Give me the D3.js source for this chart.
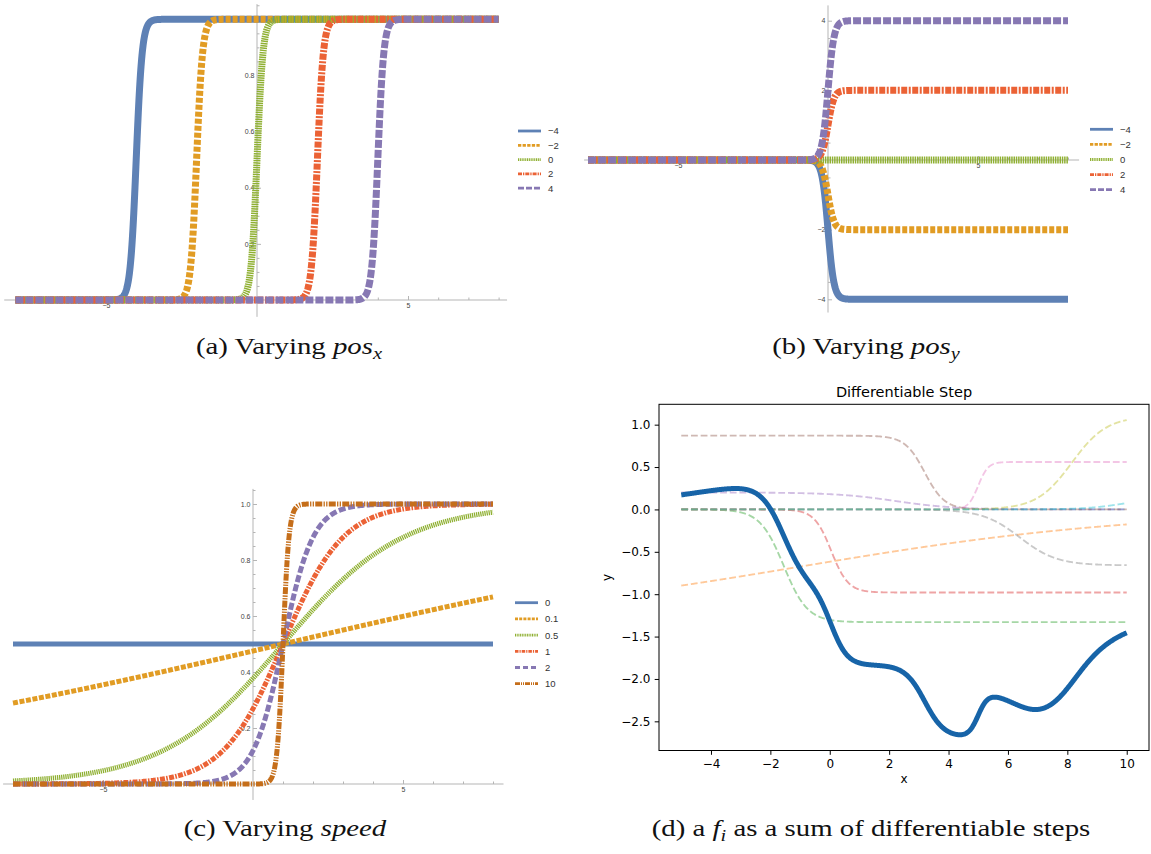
<!DOCTYPE html>
<html>
<head>
<meta charset="utf-8">
<script src="https://cdn.jsdelivr.net/npm/d3@7"></script>
<style>
  html, body { margin: 0; padding: 0; background: #fff; }
  svg { display: block; }
</style>
</head>
<body>
<svg id="fig" width="1151" height="854"></svg>
<script>
// ---- step parameters shown in panels (a)-(c) ----
const posXValues = [-4, -2, 0, 2, 4];
const posYValues = [-4, -2, 0, 2, 4];
const speedValues = [0, 0.1, 0.5, 1, 2, 10];
const baseSpeed = 10;
const basePosX = 0;
const basePosY = 1;
const speedPanelPosX = 1;
const curveDomain = [-8, 8];

// ---- tick labels of the three step panels ----
const stepTicksX = [-5, 5];
const unitTicksY = [0.2, 0.4, 0.6, 0.8, 1.0];
const posYTicksY = [-4, -2, 2, 4];

// ---- panel (d): individual steps (height, centre, speed); the thick curve is their sum ----
const stepHeights = [0.0, -1.35, -1.33, -0.98, 0.20, 0.87, 0.56, -0.66, 1.10, 0.15];
const stepCentres = [2.0, -1.0, -1.55, 0.05, 2.2, 3.2, 5.0, 6.4, 8.15, 10.0];
const stepSpeeds  = [1.0, -0.172, 2.5, 3.5, -1.0, -3.0, 6.0, 1.6, 1.7, 1.5];
const sumDomain = [-5, 10];
const sumTicksX = [-4, -2, 0, 2, 4, 6, 8, 10];
const sumTicksY = [1.0, 0.5, 0.0, -0.5, -1.0, -1.5, -2.0, -2.5];

const sigmoid = t => 1 / (1 + Math.exp(-t));
const step = (x, height, centre, speed) => height * sigmoid(speed * (x - centre));

const svg = d3.select("#fig");
const minus = v => (v < 0 ? "\u2212" : "") + Math.abs(v);

// Mathematica-like default styling
const mmaColors = ["#5E81B5", "#E19C24", "#8FB032", "#EB6235", "#8778B3", "#C56E1A"];
const axisGray = "#b5b5b5";
const tickText = "#444";

function stepPanel(cfg) {
  const g = svg.append("g");
  const x = d3.scaleLinear().domain(curveDomain).range(cfg.xRange);
  const y = d3.scaleLinear().domain(cfg.yDomain).range(cfg.yRange);

  // axis lines through the origin
  g.append("line")
    .attr("x1", x(cfg.axisX[0])).attr("x2", x(cfg.axisX[1]))
    .attr("y1", y(0)).attr("y2", y(0))
    .attr("stroke", axisGray).attr("stroke-width", 1);
  g.append("line")
    .attr("x1", x(0)).attr("x2", x(0))
    .attr("y1", y(cfg.axisY[0])).attr("y2", y(cfg.axisY[1]))
    .attr("stroke", axisGray).attr("stroke-width", 1);

  const styleAxis = sel => {
    sel.select(".domain").remove();
    sel.selectAll(".tick line").attr("stroke", axisGray);
    sel.selectAll(".tick text").attr("fill", tickText)
      .attr("font-family", "Arial, 'Liberation Sans', sans-serif").attr("font-size", 7);
  };

  const minorX = d3.range(-8, 9, 1).filter(v => v !== 0 && !stepTicksX.includes(v));
  g.append("g").attr("transform", `translate(0,${y(0)})`)
    .call(d3.axisBottom(x).tickValues(minorX).tickSize(-2.5).tickFormat(""))
    .call(styleAxis);
  g.append("g").attr("transform", `translate(0,${y(0)})`)
    .call(d3.axisBottom(x).tickValues(stepTicksX).tickSize(-4).tickPadding(3).tickFormat(minus))
    .call(styleAxis);

  g.append("g").attr("transform", `translate(${x(0)},0)`)
    .call(d3.axisLeft(y).tickValues(cfg.minorY).tickSize(-2.5).tickFormat(""))
    .call(styleAxis);
  g.append("g").attr("transform", `translate(${x(0)},0)`)
    .call(d3.axisLeft(y).tickValues(cfg.ticksY).tickSize(-4).tickPadding(2.5).tickFormat(cfg.tickFormat))
    .call(styleAxis);

  // curves, one per parameter value
  const n = 1600;
  const xs = d3.range(n + 1).map(i => curveDomain[0] + i * (curveDomain[1] - curveDomain[0]) / n);
  const line = d3.line().x(d => x(d[0])).y(d => y(d[1]));
  cfg.values.forEach((v, i) => {
    g.append("path")
      .attr("d", line(xs.map(t => [t, cfg.fn(t, v)])))
      .attr("fill", "none")
      .attr("stroke", mmaColors[i])
      .attr("stroke-width", cfg.lw)
      .attr("stroke-linejoin", "round")
      .attr("stroke-dasharray", cfg.dash[i]);
  });

  // legend
  cfg.values.forEach((v, i) => {
    const ly = cfg.legendY0 + i * cfg.legendDy;
    g.append("line")
      .attr("x1", cfg.legendX).attr("x2", cfg.legendX + 23)
      .attr("y1", ly).attr("y2", ly)
      .attr("stroke", mmaColors[i]).attr("stroke-width", 2.8)
      .attr("stroke-dasharray", cfg.legendDash[i]);
    g.append("text")
      .attr("x", cfg.legendX + 30).attr("y", ly).attr("dy", "0.36em")
      .attr("font-family", "Arial, 'Liberation Sans', sans-serif")
      .attr("font-size", 9.5).attr("fill", "#333")
      .text(minus(v));
  });
}

const unitMinorY = d3.range(0.05, 1.051, 0.05).map(v => +v.toFixed(2))
  .filter(v => !unitTicksY.some(t => Math.abs(t - v) < 1e-6));
const posMinorY = d3.range(-4, 4.01, 0.5).filter(v => v !== 0 && !posYTicksY.includes(v));

// (a) varying pos_x
stepPanel({
  values: posXValues,
  fn: (t, v) => step(t, basePosY, v, baseSpeed),
  xRange: [257 - 8 * 30.2, 257 + 8 * 30.2],
  yDomain: [0, 1], yRange: [300, 19.3],
  axisX: [-8.37, 8.28], axisY: [-0.06, 1.054],
  ticksY: unitTicksY, minorY: unitMinorY, tickFormat: d3.format(".1f"),
  lw: 7,
  dash: [null, "5,2", "1.5,0.8", "6,1.5,2,1.5", "8,2"],
  legendDash: [null, "3.3,1.3", "1.1,0.7", "4,1,1.3,1", "6,2"],
  legendX: 518, legendY0: 131, legendDy: 14.3
});

// (b) varying pos_y
stepPanel({
  values: posYValues,
  fn: (t, v) => step(t, v, basePosX, baseSpeed),
  xRange: [828 - 8 * 30, 828 + 8 * 30],
  yDomain: [-4, 4], yRange: [299.3, 20.7],
  axisX: [-8.13, 8.37], axisY: [-4.38, 4.44],
  ticksY: posYTicksY, minorY: posMinorY, tickFormat: minus,
  lw: 7,
  dash: [null, "5,2", "1.5,0.8", "6,1.5,2,1.5", "8,2"],
  legendDash: [null, "3.3,1.3", "1.1,0.7", "4,1,1.3,1", "6,2"],
  legendX: 1090, legendY0: 129.3, legendDy: 15.1
});

// (c) varying speed
stepPanel({
  values: speedValues,
  fn: (t, v) => step(t, basePosY, speedPanelPosX, v),
  xRange: [253 - 8 * 30, 253 + 8 * 30],
  yDomain: [0, 1], yRange: [784, 504],
  axisX: [-8.33, 8.35], axisY: [-0.057, 1.054],
  ticksY: unitTicksY, minorY: unitMinorY, tickFormat: d3.format(".1f"),
  lw: 5,
  dash: [null, "5,1.6", "1.3,0.8", "5,1.3,1.6,1.3", "7,2.5", "7,1.3,1.3,1.3,1.3,1.3"],
  legendDash: [null, "3,1.2", "1,0.7", "3.5,1,1.2,1", "5,3", "5,1,1,1,1,1"],
  legendX: 515, legendY0: 602.7, legendDy: 16.2
});

// (d) a function built from differentiable steps (matplotlib-like styling)
(function sumPanel() {
  const tab10 = ["#1f77b4", "#ff7f0e", "#2ca02c", "#d62728", "#9467bd",
                 "#8c564b", "#e377c2", "#7f7f7f", "#bcbd22", "#17becf"];
  const box = { left: 659, right: 1149, top: 404.3, bottom: 750.5 };
  const g = svg.append("g");

  const xs = d3.range(1000).map(i => sumDomain[0] + i * (sumDomain[1] - sumDomain[0]) / 999);
  const stepSeries = stepHeights.map((h, i) => xs.map(t => [t, step(t, h, stepCentres[i], stepSpeeds[i])]));
  const sumSeries = xs.map((t, j) => [t, d3.sum(stepSeries, s => s[j][1])]);

  const allY = stepSeries.flat().concat(sumSeries).map(d => d[1]);
  const [ymin, ymax] = d3.extent(allY);
  const xPad = (sumDomain[1] - sumDomain[0]) * 0.05;
  const yPad = (ymax - ymin) * 0.05;
  const x = d3.scaleLinear().domain([sumDomain[0] - xPad, sumDomain[1] + xPad]).range([box.left, box.right]);
  const y = d3.scaleLinear().domain([ymin - yPad, ymax + yPad]).range([box.bottom, box.top]);
  const line = d3.line().x(d => x(d[0])).y(d => y(d[1]));

  stepSeries.forEach((s, i) => {
    g.append("path").attr("d", line(s))
      .attr("fill", "none").attr("stroke", tab10[i % 10])
      .attr("stroke-width", 1.85).attr("stroke-dasharray", "6.8,2.9")
      .attr("stroke-opacity", 0.42);
  });
  g.append("path").attr("d", line(sumSeries))
    .attr("fill", "none").attr("stroke", "#1764a8")
    .attr("stroke-width", 5).attr("stroke-linejoin", "round").attr("stroke-linecap", "butt");

  const font = "'DejaVu Sans', Verdana, sans-serif";
  const styleAxis = sel => {
    sel.select(".domain").remove();
    sel.selectAll(".tick line").attr("stroke", "#000").attr("stroke-width", 1);
    sel.selectAll(".tick text").attr("fill", "#000").attr("font-family", font).attr("font-size", 12);
  };
  g.append("g").attr("transform", `translate(0,${box.bottom})`)
    .call(d3.axisBottom(x).tickValues(sumTicksX).tickSize(4.3).tickPadding(4.3).tickFormat(d3.format("d")))
    .call(styleAxis);
  g.append("g").attr("transform", `translate(${box.left},0)`)
    .call(d3.axisLeft(y).tickValues(sumTicksY).tickSize(4.3).tickPadding(4.3).tickFormat(d3.format(".1f")))
    .call(styleAxis);

  g.append("rect")
    .attr("x", box.left).attr("y", box.top)
    .attr("width", box.right - box.left).attr("height", box.bottom - box.top)
    .attr("fill", "none").attr("stroke", "#000").attr("stroke-width", 1);

  g.append("text").attr("x", (box.left + box.right) / 2).attr("y", 397)
    .attr("text-anchor", "middle").attr("font-family", font).attr("font-size", 14.5)
    .text("Differentiable Step");
  g.append("text").attr("x", (box.left + box.right) / 2).attr("y", 783)
    .attr("text-anchor", "middle").attr("font-family", font).attr("font-size", 12)
    .text("x");
  g.append("text").attr("transform", `translate(611,${(box.top + box.bottom) / 2}) rotate(-90)`)
    .attr("text-anchor", "middle").attr("font-family", font).attr("font-size", 12)
    .text("y");
})();

// sub-figure captions
function caption(cx, baseline, parts) {
  const t = svg.append("text")
    .attr("transform", `translate(${cx},${baseline}) scale(1.2,1)`)
    .attr("text-anchor", "middle")
    .attr("font-family", "'Liberation Serif', 'DejaVu Serif', serif")
    .attr("font-size", 24).attr("fill", "#111")
    .style("white-space", "pre");
  let shifted = false;
  parts.forEach(p => {
    const s = t.append("tspan").text(p.text);
    if (p.italic) s.attr("font-style", "italic");
    if (p.sub) { s.attr("font-size", 17).attr("dy", 5); shifted = true; }
    else if (shifted) { s.attr("dy", -5); shifted = false; }
  });
}
caption(289, 354, [{ text: "(a) Varying " }, { text: "pos", italic: true }, { text: "x", italic: true, sub: true }]);
caption(866, 354, [{ text: "(b) Varying " }, { text: "pos", italic: true }, { text: "y", italic: true, sub: true }]);
caption(285, 836, [{ text: "(c) Varying " }, { text: "speed", italic: true }]);
caption(871, 836, [{ text: "(d) a " }, { text: "f", italic: true }, { text: "i", italic: true, sub: true },
                   { text: " as a sum of differentiable steps" }]);
</script>
</body>
</html>
